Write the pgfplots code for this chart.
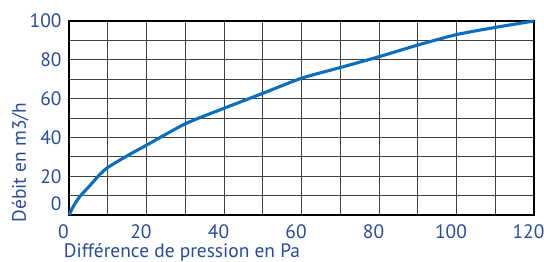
\documentclass[border=0pt]{standalone}
\usepackage{fontspec}
\setmainfont{PT Sans}
\usepackage{pgfplots}
\pgfplotsset{compat=1.18}
\definecolor{txtblue}{RGB}{40,75,160}
\definecolor{curveblue}{RGB}{10,110,190}
\begin{document}
\begin{tikzpicture}
\begin{axis}[
  name=ax,
  scale only axis,
  width=465bp, height=194bp,
  xmin=0, xmax=120, ymin=0, ymax=100,
  xtick={0,10,...,120},
  xticklabels={0,,20,,40,,60,,80,,100,,120},
  ytick={0,10,...,100},
  yticklabels={,,20,,40,,60,,80,,100},
  extra y ticks={6},
  extra y tick labels={0},
  extra y tick style={grid=none, major tick length=0pt},
  grid=major,
  major grid style={black!75, line width=0.9bp},
  major tick length=0pt,
  axis line style={black, line width=1.5bp},
  /pgf/number format/assume math mode=true,
  tick label style={font=\fontsize{19.5}{21}\selectfont, text=txtblue},
  xticklabel style={yshift=-6.5bp, xshift=-5.5bp},
  yticklabel style={xshift=-4bp},
  xlabel={Différence de pression en Pa},
  ylabel={Débit en m3/h},
  label style={font=\fontsize{19.5}{21}\selectfont, text=txtblue},
  xlabel style={at={(axis description cs:0.243,-0.192)}, anchor=center},
  ylabel style={at={(axis description cs:-0.105,0.27)}, anchor=center},
  clip=false,
]
\addplot[curveblue, line width=3.1bp, smooth, tension=0.4] coordinates {
(0,0) (1,4) (2,7.3) (3,10) (5,14.3) (8,21) (10,24.5) (15,30.5) (20,36)
(30,47) (40,55) (50,62.7) (60,70.5) (70,76) (80,81.6) (90,87.6) (100,93)
(110,96.7) (120,100)
};
\end{axis}
\pgfresetboundingbox
\path ([xshift=-69bp,yshift=-47bp]ax.south west) rectangle ([xshift=10bp,yshift=21bp]ax.north east);
\end{tikzpicture}
\end{document}
